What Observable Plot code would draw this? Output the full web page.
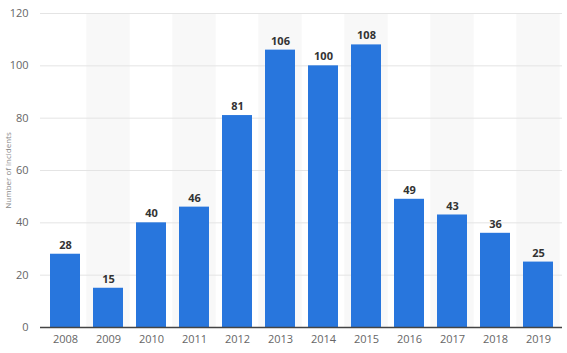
<!DOCTYPE html>
<html>
<head>
<meta charset="utf-8">
<script src="https://cdn.jsdelivr.net/npm/d3@7"></script>
<script src="https://cdn.jsdelivr.net/npm/@observablehq/plot@0.6"></script>
<style>
  html, body { margin: 0; padding: 0; background: #fff; overflow: hidden; }
  #chart svg { display: block; }
</style>
</head>
<body>
<div id="chart"></div>
<script>
const years = ["2008","2009","2010","2011","2012","2013","2014","2015","2016","2017","2018","2019"];
const incidents = [28, 15, 40, 46, 81, 106, 100, 108, 49, 43, 36, 25];
const yTicks = [0, 20, 40, 60, 80, 100, 120];
const yLabel = "Number of incidents";

const data = years.map((y, i) => ({year: y, value: incidents[i]}));
const shaded = years.filter((y, i) => i % 2 === 1);

const chart = Plot.plot({
  width: 567,
  height: 353,
  marginLeft: 40,
  marginRight: 5,
  marginTop: 13,
  marginBottom: 26,
  style: {fontFamily: "'Open Sans', sans-serif", fontSize: "11px", color: "#666", background: "#fff"},
  x: {domain: years, paddingInner: 0.31, paddingOuter: 0.155, label: null},
  y: {domain: [0, 120], label: null},
  marks: [
    Plot.barY(shaded, {x: d => d, y1: 0, y2: 120, fill: "#f8f8f8", insetLeft: -6.7, insetRight: -6.7}),
    Plot.gridY(yTicks, {stroke: "#e4e4e4", strokeOpacity: 1, strokeWidth: 1}),
    Plot.axisY({ticks: yTicks, tickSize: 0, tickPadding: 12, fill: "#666", fontSize: 11}),
    Plot.axisY({ticks: [], tickSize: 0, label: yLabel, labelAnchor: "center", labelOffset: 35,
      labelArrow: "none", fill: "#888", fontSize: 8}),
    Plot.axisX({tickSize: 0, tickPadding: 8, fill: "#666", fontSize: 11, label: null}),
    Plot.barY(data, {x: "year", y: "value", fill: "#2876dd"}),
    Plot.ruleY([0], {stroke: "#444", strokeWidth: 1.5}),
    Plot.text(data, {x: "year", y: "value", text: d => String(d.value), dy: -9,
      fill: "#333", fontWeight: "bold", fontSize: 11})
  ]
});
document.getElementById("chart").appendChild(chart);
</script>
</body>
</html>
